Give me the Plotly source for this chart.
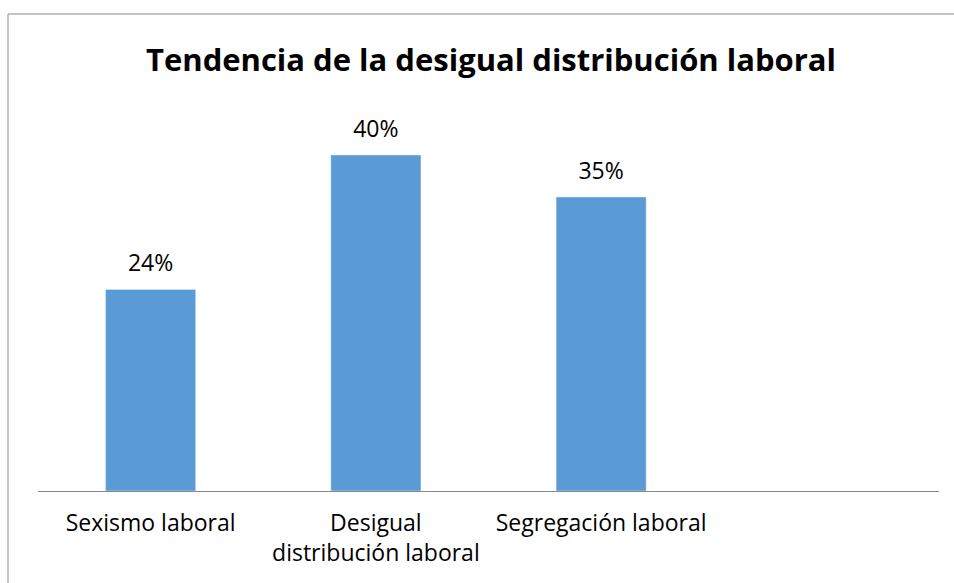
import plotly.graph_objects as go

categorias = ["Sexismo laboral", "Desigual<br>distribución laboral", "Segregación laboral"]
valores = [24, 40, 35]
etiquetas = ["24%", "40%", "35%"]

fig = go.Figure()

fig.add_trace(go.Bar(
    x=categorias,
    y=valores,
    marker_color="#5B9BD5",
    hoverinfo="skip",
))

# etiquetas de datos encima de cada barra
fig.add_trace(go.Scatter(
    x=categorias,
    y=valores,
    mode="markers+text",
    text=etiquetas,
    textposition="top center",
    marker=dict(size=18, color="rgba(0,0,0,0)"),
    textfont=dict(family="Open Sans", size=23, color="black"),
    cliponaxis=False,
    hoverinfo="skip",
))

fig.update_layout(
    width=954,
    height=583,
    margin=dict(l=38, r=15, t=113, b=92),
    paper_bgcolor="white",
    plot_bgcolor="white",
    showlegend=False,
    bargap=0.6,
    title=dict(
        text="<b>Tendencia de la desigual distribución laboral</b>",
        x=491 / 954,
        xanchor="center",
        y=1 - 60 / 583,
        yanchor="middle",
        font=dict(family="Open Sans", size=31, color="black"),
    ),
    font=dict(family="Open Sans", size=23, color="black"),
)

fig.update_xaxes(
    type="category",
    range=[-0.5, 3.5],
    showline=True,
    linecolor="#888888",
    linewidth=1,
    ticks="outside",
    ticklen=11,
    tickcolor="rgba(0,0,0,0)",
    tickfont=dict(family="Open Sans", size=23, color="black"),
    showgrid=False,
)
fig.update_yaxes(range=[0, 45], visible=False, showgrid=False)

# borde del gráfico
fig.add_shape(
    type="rect",
    xref="paper",
    yref="paper",
    x0=(8 - 38) / 901,
    x1=1.2,
    y0=-0.5,
    y1=1 + (113 - 14) / 378,
    line=dict(color="#888888", width=1),
    layer="below",
)

# quitar el margen del body para que la figura empiece en (0, 0)
fig.write_html(
    "out.html",
    config={"displayModeBar": False},
    post_script="document.body.style.margin='0';",
)
